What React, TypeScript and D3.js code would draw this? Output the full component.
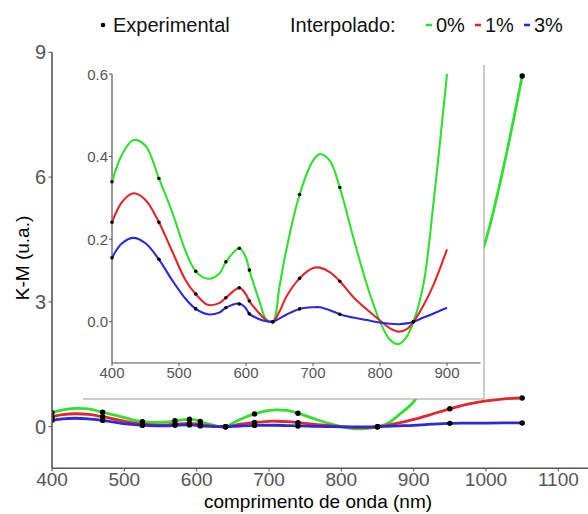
import React from "react";
import * as d3 from "d3";

// ---- Data ----
const expWl = [400, 470, 525, 570, 590, 605, 640, 680, 740, 850, 950, 1050];
const expGreen = [0.339, 0.347, 0.122, 0.145, 0.178, 0.125, 0, 0.308, 0.325, 0, 2.2, 8.43];
const expRed = [0.241, 0.241, 0.067, 0.058, 0.082, 0.05, 0, 0.105, 0.098, 0, 0.43, 0.69];
const expBlue = [0.155, 0.151, 0.031, 0.034, 0.043, 0.019, 0, 0.031, 0.018, 0, 0.08, 0.09];

const curveWl = [400, 415, 432, 450, 470, 490, 510, 525, 543, 560, 570, 590, 600, 605, 620, 630, 640, 650, 660, 680, 700, 710, 725, 740, 760, 780, 800, 815, 828, 840, 850, 865, 880, 900, 925, 950, 975, 1000, 1025, 1050];
const curveGreen = [0.339, 0.405, 0.44, 0.426, 0.347, 0.265, 0.17, 0.122, 0.104, 0.116, 0.145, 0.178, 0.155, 0.125, 0.05, 0.006, 0, 0.085, 0.173, 0.308, 0.39, 0.406, 0.39, 0.325, 0.205, 0.092, 0, -0.044, -0.054, -0.036, 0, 0.092, 0.29, 0.6, 1.3, 2.2, 3.3, 4.5, 6.3, 8.43];
const curveRed = [0.241, 0.29, 0.311, 0.295, 0.241, 0.17, 0.1, 0.067, 0.041, 0.045, 0.058, 0.082, 0.066, 0.05, 0.02, 0.004, 0, 0.025, 0.06, 0.105, 0.13, 0.131, 0.12, 0.098, 0.06, 0.03, 0.003, -0.016, -0.024, -0.018, 0, 0.04, 0.09, 0.175, 0.3, 0.43, 0.54, 0.62, 0.67, 0.69];
const curveBlue = [0.155, 0.19, 0.203, 0.19, 0.151, 0.1, 0.055, 0.031, 0.018, 0.022, 0.034, 0.044, 0.032, 0.019, 0.006, 0.001, 0, 0.008, 0.017, 0.031, 0.035, 0.035, 0.028, 0.018, 0.01, 0.004, -0.002, -0.005, -0.006, -0.004, 0, 0.01, 0.02, 0.034, 0.06, 0.08, 0.085, 0.088, 0.09, 0.09];

const mainXTicks = [400, 500, 600, 700, 800, 900, 1000, 1100];
const mainYTicks = [0, 3, 6, 9];
const insetXTicks = [400, 500, 600, 700, 800, 900];
const insetYTicks = [0.0, 0.2, 0.4, 0.6];
const seriesNames = ["0%", "1%", "3%"];
const seriesColors = ["#2fe02f", "#e3262b", "#2b2bd6"];

const curves = [curveGreen, curveRed, curveBlue];
const exps = [expGreen, expRed, expBlue];

const FONT = "Liberation Sans, Arial, sans-serif";
const GRAY = "#555";

export default function App() {
  const W = 588, H = 514;
  // main scales
  const x = d3.scaleLinear().domain([400, 1141]).range([52, 588]);
  const y = d3.scaleLinear().domain([-1, 9]).range([468.3, 52.3]);
  // inset scales
  const xi = d3.scaleLinear().domain([400, 950]).range([112, 480.5]);
  const yi = d3.scaleLinear().domain([-0.1, 0.6]).range([363, 74]);

  const lineMain = (vals: number[]) =>
    d3.line<number>().x((_, i) => x(curveWl[i])).y((v) => y(v)).curve(d3.curveCatmullRom.alpha(0.5))(vals) || "";
  const insetIdx = curveWl.map((w, i) => i).filter((i) => curveWl[i] <= 900);
  const lineInset = (vals: number[]) =>
    d3.line<number>().x((i) => xi(curveWl[i])).y((i) => yi(vals[i])).curve(d3.curveCatmullRom.alpha(0.5))(insetIdx) || "";

  const legX = [426, 475, 524];

  return (
    <svg width={W} height={H} style={{ position: "absolute", left: 0, top: 0, background: "#fff" }} fontFamily={FONT}>
      <defs>
        <clipPath id="mainClip"><rect x={52} y={40} width={536} height={428} /></clipPath>
      </defs>
      <rect x={0} y={0} width={W} height={H} fill="#fff" />

      {/* Legend */}
      <g fontSize={20} fill="#111">
        <circle cx={103} cy={25} r={2.3} fill="#000" />
        <text x={113} y={32}>Experimental</text>
        <text x={290} y={32}>Interpolado:</text>
        {seriesNames.map((n, i) => (
          <g key={n}>
            <line x1={legX[i]} x2={legX[i] + 6} y1={25} y2={25} stroke={seriesColors[i]} strokeWidth={2.6} />
            <text x={legX[i] + 10} y={32}>{n}</text>
          </g>
        ))}
      </g>

      {/* Main curves */}
      <g clipPath="url(#mainClip)">
        {curves.map((c, k) => (
          <path key={k} d={lineMain(c)} fill="none" stroke={seriesColors[k]} strokeWidth={2.8} />
        ))}
        {exps.map((e, k) =>
          e.map((v, i) => <circle key={k + "-" + i} cx={x(expWl[i])} cy={y(v)} r={2.7} fill="#000" />)
        )}
      </g>

      {/* Main axes */}
      <line x1={52} x2={588} y1={468.3} y2={468.3} stroke={GRAY} strokeWidth={1.6} />
      <line x1={52} x2={52} y1={52.3} y2={468.3} stroke={GRAY} strokeWidth={1.6} />
      {mainXTicks.map((t) => (
        <g key={t}>
          <line x1={x(t)} x2={x(t)} y1={468.3} y2={471.5} stroke={GRAY} />
          <text x={x(t)} y={486} textAnchor="middle" fontSize={19} fill={GRAY}>{t}</text>
        </g>
      ))}
      {mainYTicks.map((t) => (
        <g key={t}>
          <line x1={48.5} x2={52} y1={y(t)} y2={y(t)} stroke={GRAY} />
          <text x={46} y={y(t) + 7} textAnchor="end" fontSize={20} fill={GRAY}>{t}</text>
        </g>
      ))}
      <text x={318} y={508} textAnchor="middle" fontSize={19} fill="#000">comprimento de onda (nm)</text>
      <text transform="translate(29,258) rotate(-90)" textAnchor="middle" fontSize={19} fill="#000">K-M (u.a.)</text>

      {/* Inset */}
      <rect x={83} y={60} width={401} height={339} fill="#fff" />
      <line x1={484} x2={484} y1={65} y2={399} stroke="#999" strokeWidth={1} />
      <line x1={83} x2={484} y1={399} y2={399} stroke="#999" strokeWidth={1} />
      <line x1={112} x2={480.5} y1={363} y2={363} stroke={GRAY} strokeWidth={1.2} />
      <line x1={112} x2={112} y1={74} y2={363} stroke={GRAY} strokeWidth={1.2} />
      {insetXTicks.map((t) => (
        <g key={t}>
          <line x1={xi(t)} x2={xi(t)} y1={363} y2={366} stroke={GRAY} />
          <text x={xi(t)} y={378} textAnchor="middle" fontSize={15} fill={GRAY}>{t}</text>
        </g>
      ))}
      {insetYTicks.map((t) => (
        <g key={t}>
          <line x1={109} x2={112} y1={yi(t)} y2={yi(t)} stroke={GRAY} />
          <text x={108} y={yi(t) + 5.5} textAnchor="end" fontSize={15} fill={GRAY}>{t.toFixed(1)}</text>
        </g>
      ))}
      {curves.map((c, k) => (
        <path key={"i" + k} d={lineInset(c)} fill="none" stroke={seriesColors[k]} strokeWidth={2.1} />
      ))}
      {exps.map((e, k) =>
        e.map((v, i) =>
          expWl[i] <= 850 ? <circle key={"i" + k + "-" + i} cx={xi(expWl[i])} cy={yi(v)} r={1.8} fill="#000" /> : null
        )
      )}
    </svg>
  );
}
